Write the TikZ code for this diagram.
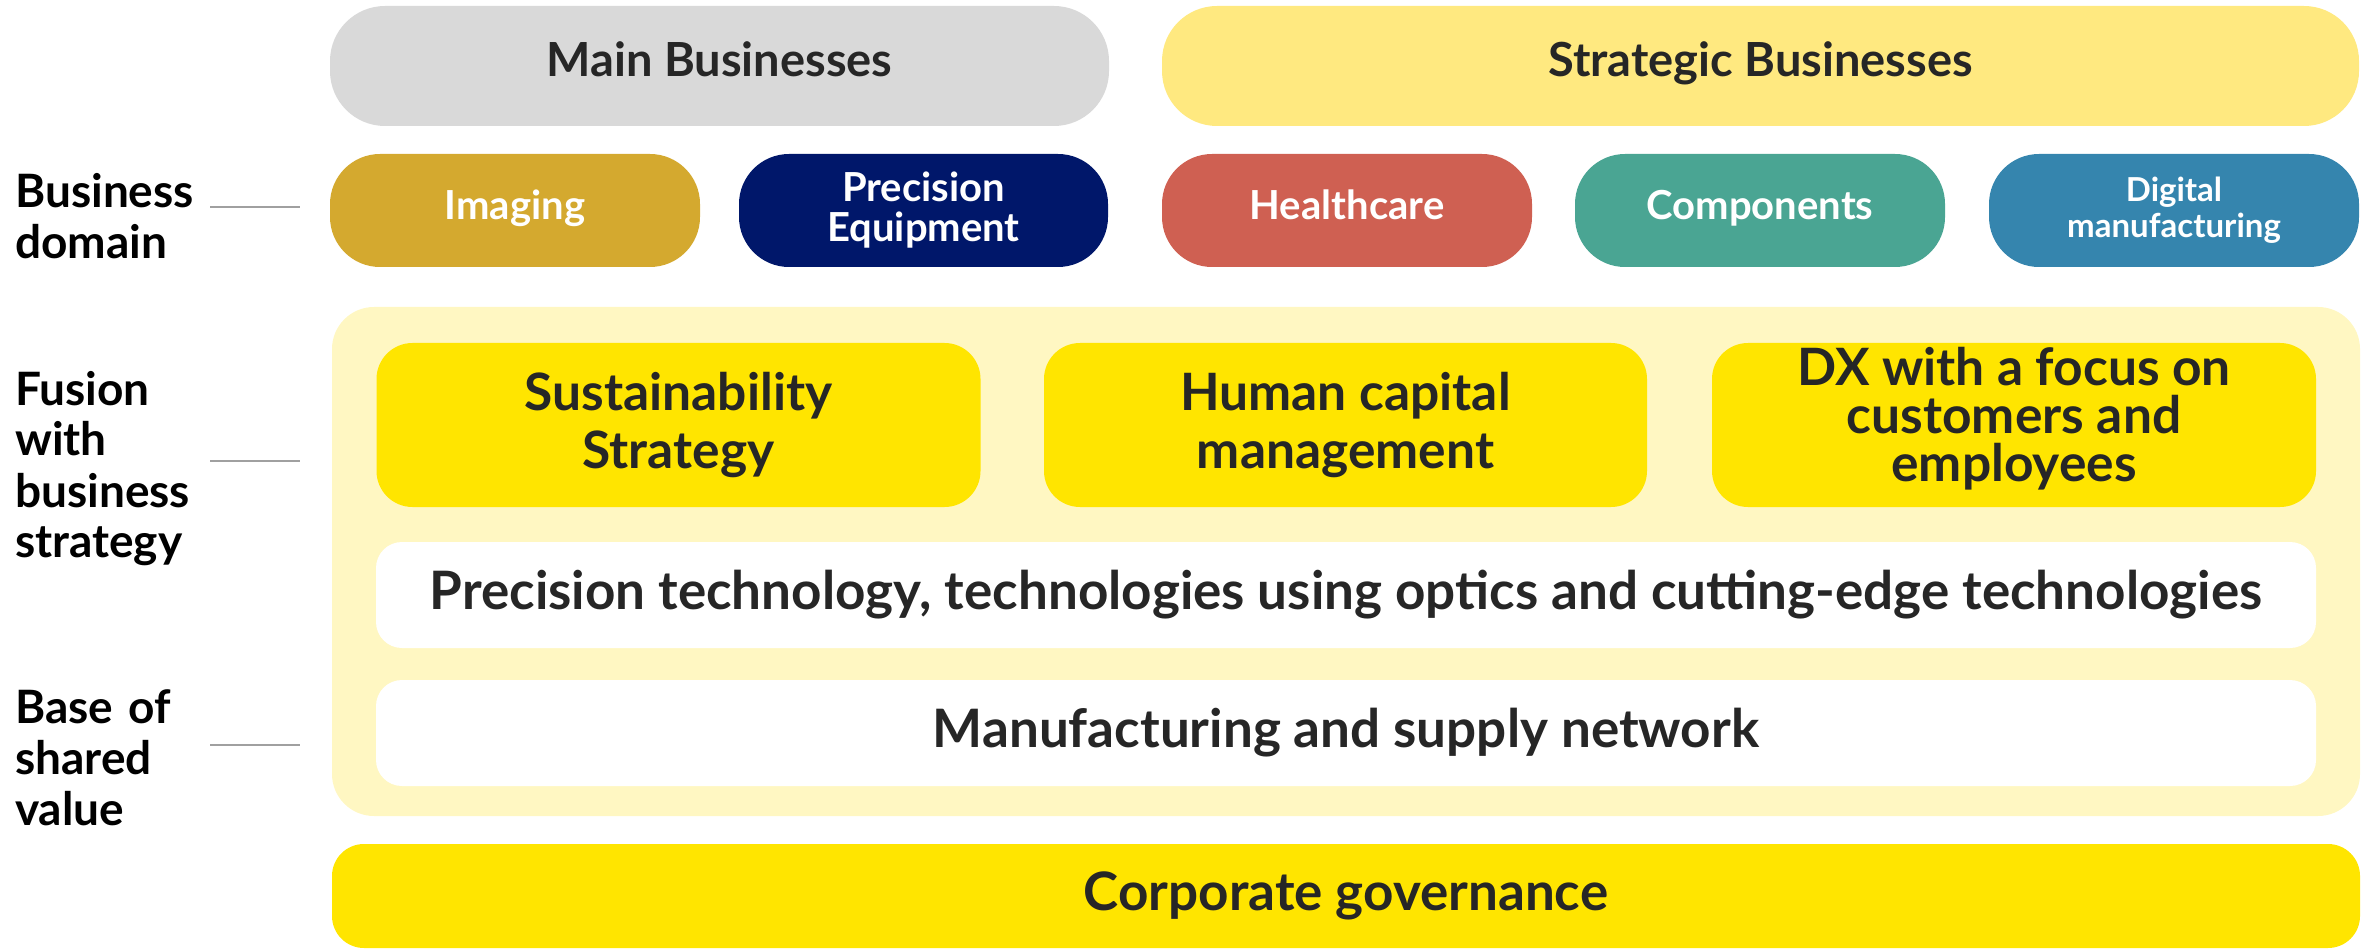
\documentclass[tikz,border=0pt]{standalone}
\usepackage{fontspec}
\setmainfont{Lato}
\definecolor{cgray}{HTML}{D9D9D9}
\definecolor{cstrat}{HTML}{FFE980}
\definecolor{cimg}{HTML}{D4A92F}
\definecolor{cprec}{HTML}{00176A}
\definecolor{chealth}{HTML}{CF6052}
\definecolor{ccomp}{HTML}{4AA593}
\definecolor{cdig}{HTML}{3585AE}
\definecolor{cbig}{HTML}{FFF7C2}
\definecolor{cyel}{HTML}{FFE500}
\definecolor{ctext}{HTML}{262626}
\definecolor{cline}{HTML}{A0A0A0}
\tikzset{
  box/.style={inner sep=0pt, outer sep=0pt, draw=none, align=center, text=ctext, font=\bfseries},
  topbox/.style={box, rounded corners=55pt, minimum height=120pt, font=\bfseries\fontsize{47}{52}\selectfont},
  dombox/.style={box, rounded corners=50pt, minimum height=113pt, minimum width=370pt, text=white},
  stratbox/.style={box, rounded corners=36pt, fill=cyel, minimum width=604pt, minimum height=164pt, font=\bfseries\fontsize{51.5}{58}\selectfont},
  wbox/.style={box, rounded corners=26pt, fill=white, minimum width=1940pt, minimum height=106pt, font=\bfseries\fontsize{53}{58}\selectfont},
  sidelabel/.style={inner sep=0pt, anchor=base west, text width=300pt, align=left, text=black, font=\bfseries\fontsize{46}{51}\selectfont},
  tick/.style={draw=cline, line width=2pt}
}
\begin{document}
\begin{tikzpicture}[x=1pt,y=-1pt]
\useasboundingbox (0,0) rectangle (2366,949);
% top row
\node[topbox, fill=cgray, minimum width=779pt] (main) at (719.5,66) {\strut Main Businesses};
\node[topbox, fill=cstrat, minimum width=1197pt] (strat) at (1760.5,66) {\strut Strategic Businesses};
% business domains
\node[dombox, fill=cimg, font=\bfseries\fontsize{40}{44}\selectfont] (imaging) at (515,210.5) {\strut Imaging};
\node[dombox, fill=cprec, minimum width=369pt, font=\bfseries\fontsize{40}{40}\selectfont] (prec) at (923.5,210.5) {Precision\\Equipment};
\node[dombox, fill=chealth, font=\bfseries\fontsize{40}{44}\selectfont] (health) at (1347,210.5) {\strut Healthcare};
\node[dombox, fill=ccomp, font=\bfseries\fontsize{40}{44}\selectfont] (comp) at (1760,210.5) {\strut Components};
\node[dombox, fill=cdig, font=\bfseries\fontsize{33}{36}\selectfont] (digital) at (2174,210.5) {Digital\\manufacturing};
% big background
\node[box, fill=cbig, rounded corners=42pt, minimum width=2028pt, minimum height=509pt] (bg) at (1346,561.5) {};
% strategy boxes
\node[stratbox] (sust) at (678.5,425) {Sustainability\\Strategy};
\node[stratbox, minimum width=603pt] (human) at (1345.5,425) {Human capital\\management};
\node[stratbox] (dx) at (2014,425) {};
\node[box, font=\bfseries\fontsize{51.5}{48}\selectfont] (dxtext) at (2014,419) {DX with a focus on\\customers and\\employees};
% white boxes
\node[wbox] (tech) at (1346,595) {Precision technology, technologies using optics and cutting-edge technologies};
\node[wbox] (manu) at (1346,733) {Manufacturing and supply network};
% governance
\node[box, fill=cyel, rounded corners=32pt, minimum width=2028pt, minimum height=104pt, font=\bfseries\fontsize{53}{58}\selectfont] (gov) at (1346,896) {Corporate governance};
% side labels
\node[sidelabel] (lbl1) at (15,208) {Business\\domain};
\node[sidelabel] (lbl2) at (15,405) {Fusion\\with\\business\\strategy};
\node[sidelabel] (lbl3) at (15,723) {Base of\\shared\\value};
\coordinate (t1a) at (210,207); \coordinate (t1b) at (300,207);
\coordinate (t2a) at (210,461); \coordinate (t2b) at (300,461);
\coordinate (t3a) at (210,745); \coordinate (t3b) at (300,745);
\draw[tick] (t1a) -- (t1b);
\draw[tick] (t2a) -- (t2b);
\draw[tick] (t3a) -- (t3b);
\end{tikzpicture}
\end{document}
